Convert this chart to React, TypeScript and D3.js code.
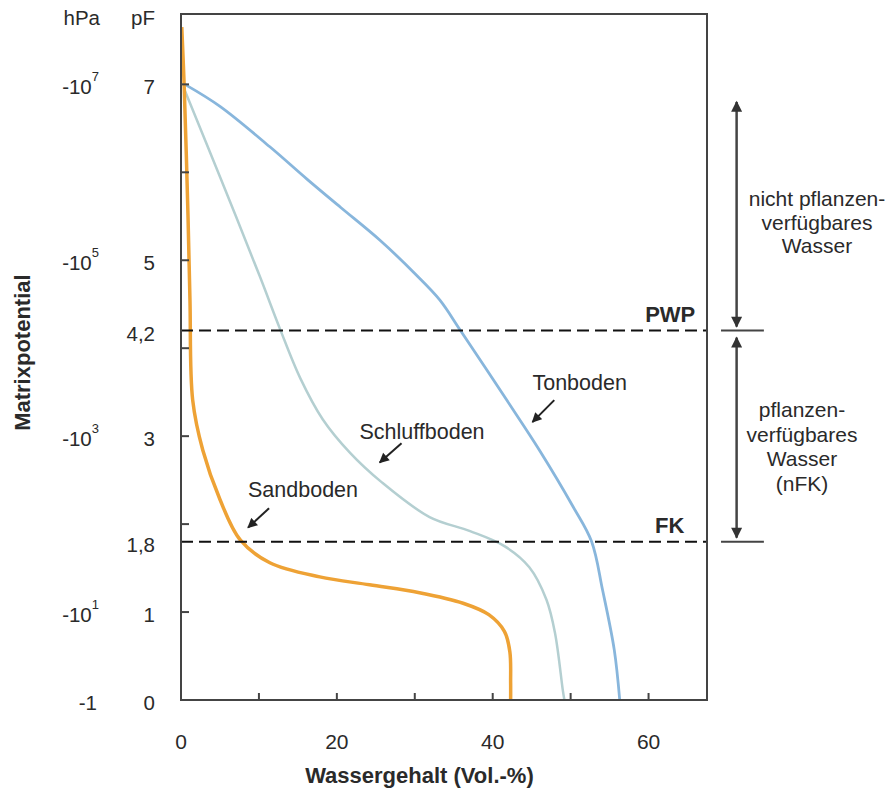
import React, { useEffect, useRef } from "react";
import * as d3 from "d3";

// Wassergehalt (Vol.-%) vs pF
const sandboden = [
  [0.1, 7.65], [0.4, 7.0], [0.9, 5.5], [1.15, 4.55], [1.5, 3.41], [2.8, 2.84], [5.0, 2.28],
  [7.6, 1.82], [11.4, 1.56], [17.8, 1.4], [24.2, 1.31], [30.6, 1.22], [36.2, 1.1],
  [39.5, 0.97], [41.5, 0.78], [42.2, 0.55], [42.3, 0.2], [42.3, 0]
];
const schluffboden = [
  [0.4, 6.95], [5.0, 5.95], [10.1, 4.82], [12.7, 4.22], [15.3, 3.66], [18.2, 3.19],
  [21.7, 2.81], [25.7, 2.48], [31.9, 2.08], [37.1, 1.92], [41.5, 1.75], [44.7, 1.51],
  [46.9, 1.14], [48.0, 0.76], [49.0, 0.11], [49.2, 0]
];
const tonboden = [
  [0.5, 7.0], [5.0, 6.75], [11.4, 6.29], [16.2, 5.92], [20.5, 5.6], [25.5, 5.23], [30.0, 4.85],
  [33.2, 4.55], [35.8, 4.21], [41.8, 3.41], [46.0, 2.84], [50.3, 2.2], [52.7, 1.8], [54.1, 1.25],
  [55.6, 0.57], [56.3, 0]
];

const pfTicks = [1, 2, 3, 4, 5, 6, 7];
const pfLabels = [[7, "7"], [5, "5"], [4.2, "4,2"], [3, "3"], [1.8, "1,8"], [1, "1"], [0, "0"]];
const hpaLabels = [[7, "7"], [5, "5"], [3, "3"], [1, "1"]];
const xTicks = [10, 20, 30, 40, 50, 60];
const xLabels = [0, 20, 40, 60];
const PWP = 4.2;
const FK = 1.8;

const FONT = "'Liberation Sans', Arial, sans-serif";
const TEXT = "#2a2a2a";
const AXIS = "#444";

export default function App() {
  const ref = useRef(null);

  useEffect(() => {
    const svg = d3.select(ref.current);
    svg.selectAll("*").remove();

    const x = d3.scaleLinear().domain([0, 67.5]).range([181, 707]);
    const y = d3.scaleLinear().domain([0, 7.8]).range([700, 14]);

    const defs = svg.append("defs");
    defs.append("marker")
      .attr("id", "head")
      .attr("viewBox", "0 0 10 10")
      .attr("refX", 9).attr("refY", 5)
      .attr("markerUnits", "userSpaceOnUse")
      .attr("markerWidth", 13).attr("markerHeight", 11)
      .attr("orient", "auto-start-reverse")
      .append("path").attr("d", "M0,0 L10,5 L0,10 z").attr("fill", "#333");
    defs.append("marker")
      .attr("id", "small")
      .attr("viewBox", "0 0 10 10")
      .attr("refX", 9).attr("refY", 5)
      .attr("markerUnits", "userSpaceOnUse")
      .attr("markerWidth", 11).attr("markerHeight", 10)
      .attr("orient", "auto")
      .append("path").attr("d", "M0,0 L10,5 L0,10 z").attr("fill", "#222");

    const g = svg.append("g").attr("font-family", FONT).attr("fill", TEXT);

    // curves
    const line = d3.line()
      .x(d => x(d[0]))
      .y(d => y(d[1]))
      .curve(d3.curveCatmullRom.alpha(0.5));

    g.append("path").attr("d", line(schluffboden))
      .attr("fill", "none").attr("stroke", "#b4cfd1").attr("stroke-width", 2.5);
    g.append("path").attr("d", line(tonboden))
      .attr("fill", "none").attr("stroke", "#88b6dc").attr("stroke-width", 2.8);
    g.append("path").attr("d", line(sandboden))
      .attr("fill", "none").attr("stroke", "#eea235").attr("stroke-width", 3.5);

    // PWP / FK lines
    [PWP, FK].forEach(v => {
      g.append("line")
        .attr("x1", x(0)).attr("x2", x(67.5))
        .attr("y1", y(v)).attr("y2", y(v))
        .attr("stroke", "#111").attr("stroke-width", 2)
        .attr("stroke-dasharray", "12,6");
      g.append("line")
        .attr("x1", x(69.3)).attr("x2", x(74.8))
        .attr("y1", y(v)).attr("y2", y(v))
        .attr("stroke", AXIS).attr("stroke-width", 2);
    });

    // frame
    g.append("rect")
      .attr("x", x(0)).attr("y", y(7.8))
      .attr("width", x(67.5) - x(0)).attr("height", y(0) - y(7.8))
      .attr("fill", "none").attr("stroke", AXIS).attr("stroke-width", 2);

    g.selectAll(".ytick").data(pfTicks).join("line")
      .attr("class", "ytick")
      .attr("x1", x(0)).attr("x2", x(0) + 8)
      .attr("y1", d => y(d)).attr("y2", d => y(d))
      .attr("stroke", AXIS).attr("stroke-width", 2);
    g.selectAll(".xtick").data(xTicks).join("line")
      .attr("class", "xtick")
      .attr("x1", d => x(d)).attr("x2", d => x(d))
      .attr("y1", y(0)).attr("y2", y(0) - 7)
      .attr("stroke", AXIS).attr("stroke-width", 2);

    // tick labels
    g.selectAll(".xlab").data(xLabels).join("text")
      .attr("class", "xlab")
      .attr("x", d => x(d)).attr("y", 749)
      .attr("text-anchor", "middle").attr("font-size", 21)
      .text(d => d);

    g.selectAll(".pflab").data(pfLabels).join("text")
      .attr("class", "pflab")
      .attr("x", 155).attr("y", d => y(d[0]) + 10)
      .attr("text-anchor", "end").attr("font-size", 20.5)
      .text(d => d[1]);

    hpaLabels.forEach(([v, e]) => {
      const t = g.append("text")
        .attr("x", 99).attr("y", y(v) + 10)
        .attr("text-anchor", "end").attr("font-size", 20.5);
      t.append("tspan").text("-10");
      t.append("tspan").attr("dy", -13).attr("font-size", 13).text(e);
    });
    g.append("text")
      .attr("x", 97).attr("y", y(0) + 10)
      .attr("text-anchor", "end").attr("font-size", 20.5)
      .text("-1");

    g.append("text").attr("x", 100).attr("y", 25)
      .attr("text-anchor", "end").attr("font-size", 20.5).text("hPa");
    g.append("text").attr("x", 155).attr("y", 25)
      .attr("text-anchor", "end").attr("font-size", 20.5).text("pF");

    // axis titles
    g.append("text")
      .attr("x", x(30.6)).attr("y", 783)
      .attr("text-anchor", "middle").attr("font-size", 22).attr("font-weight", "bold")
      .text("Wassergehalt (Vol.-%)");
    g.append("text")
      .attr("transform", `translate(30, ${y(3.95)}) rotate(-90)`)
      .attr("text-anchor", "middle").attr("font-size", 22).attr("font-weight", "bold")
      .text("Matrixpotential");

    // PWP / FK labels
    g.append("text").attr("x", x(66)).attr("y", y(PWP) - 9)
      .attr("text-anchor", "end").attr("font-size", 22).attr("font-weight", "bold").text("PWP");
    g.append("text").attr("x", x(64.6)).attr("y", y(FK) - 9)
      .attr("text-anchor", "end").attr("font-size", 22).attr("font-weight", "bold").text("FK");

    // double arrows
    const ax = x(71.3);
    g.append("line")
      .attr("x1", ax).attr("x2", ax)
      .attr("y1", y(6.8)).attr("y2", y(PWP) - 4)
      .attr("stroke", AXIS).attr("stroke-width", 2.5)
      .attr("marker-start", "url(#head)").attr("marker-end", "url(#head)");
    g.append("line")
      .attr("x1", ax).attr("x2", ax)
      .attr("y1", y(PWP) + 7).attr("y2", y(FK) - 4)
      .attr("stroke", AXIS).attr("stroke-width", 2.5)
      .attr("marker-start", "url(#head)").attr("marker-end", "url(#head)");

    const upper = ["nicht pflanzen-", "verfügbares", "Wasser"];
    upper.forEach((s, i) => {
      g.append("text").attr("x", 817).attr("y", 206 + i * 23.5)
        .attr("text-anchor", "middle").attr("font-size", 21).text(s);
    });
    const lower = ["pflanzen-", "verfügbares", "Wasser", "(nFK)"];
    lower.forEach((s, i) => {
      g.append("text").attr("x", 802).attr("y", 417 + i * 24.5)
        .attr("text-anchor", "middle").attr("font-size", 21).text(s);
    });

    // curve labels with pointer arrows
    const labels = [
      { text: "Sandboden", lx: 8.6, ly: 2.39, from: [11.3, 2.18], to: [8.6, 1.96] },
      { text: "Schluffboden", lx: 22.9, ly: 3.05, from: [28.3, 2.92], to: [25.5, 2.7] },
      { text: "Tonboden", lx: 45.1, ly: 3.6, from: [47.9, 3.41], to: [45.1, 3.16] }
    ];
    labels.forEach(l => {
      g.append("text").attr("x", x(l.lx)).attr("y", y(l.ly) + 7)
        .attr("font-size", 21.5).text(l.text);
      g.append("line")
        .attr("x1", x(l.from[0])).attr("y1", y(l.from[1]))
        .attr("x2", x(l.to[0])).attr("y2", y(l.to[1]))
        .attr("stroke", "#222").attr("stroke-width", 2)
        .attr("marker-end", "url(#small)");
    });
  }, []);

  return (
    <svg ref={ref} width={895} height={788}
      style={{ position: "absolute", left: 0, top: 0, background: "#fff" }} />
  );
}
